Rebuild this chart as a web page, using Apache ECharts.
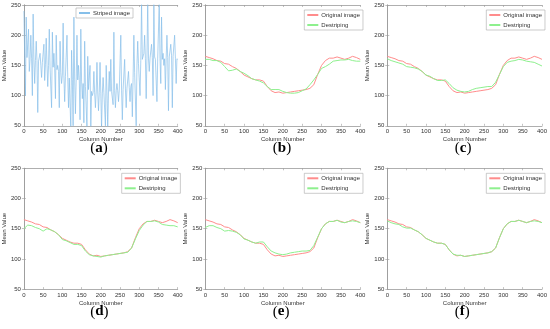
<!DOCTYPE html>
<html><head><meta charset="utf-8">
<script src="https://cdn.jsdelivr.net/npm/echarts@6/dist/echarts.min.js"></script>
<style>html,body{margin:0;padding:0;background:#fff}#c{width:550px;height:329px}</style>
</head><body><div id="c"></div>
<script>
// ---- data ----
const panelLabels = ['a','b','c','d','e','f'];
const xTicks = [0,50,100,150,200,250,300,350,400];
const yTicks = [50,100,150,200,250];
const cols10 = [0,10,20,30,40,50,60,70,80,90,100,110,120,130,140,150,160,170,180,190,200,210,220,230,240,250,260,270,280,290,300,310,320,330,340,350,360,370,380,390,400];
const original = [165,163,161,158,157,153,152,148,145,140,134,131,128,126,126,124,115,108,105,106,104,105,106,107,108,109,110,112,118,135,150,158,162,162,164,162,160,162,165,163,160];
const destripeB = [160,160,158,158,155,148,141,142,144,140,137,133,128,126,124,121,115,110,110,110,107,105,104,104,105,108,111,118,126,135,145,148,152,157,158,159,159,160,158,157,157];
const destripeC = [161,158,156,154,152,148,147,146,144,140,134,132,128,125,125,126,120,113,109,107,106,107,110,112,113,114,115,115,122,135,148,155,157,158,160,159,157,156,155,152,149];
const destripeD = [150,156,155,152,150,146,150,148,145,140,132,130,127,124,124,122,113,107,105,104,103,105,106,107,108,109,110,111,118,133,147,156,162,162,163,161,157,156,155,155,153];
const destripeE = [152,155,155,152,150,146,147,146,144,140,133,131,128,126,128,128,120,113,110,108,107,108,110,111,112,113,113,114,122,136,150,158,162,162,164,161,160,162,163,162,160];
const destripeF = [163,160,158,157,153,151,151,148,145,140,134,131,128,126,126,124,115,108,106,106,104,105,106,107,108,109,110,112,118,135,150,158,162,162,164,162,160,162,163,162,160];
const cols2 = Array.from({length:201},(_,i)=>i*2);
const striped = [
240,165,100,230,163,162,210,140,160,200,
161,100,235,160,120,158,190,158,72,157,
157,170,150,130,155,153,185,125,152,195,
152,115,150,210,148,148,80,205,147,170,
145,95,200,143,150,140,80,190,138,120,
134,220,133,90,132,131,200,130,80,129,
128,45,175,127,50,230,126,70,126,200,
126,150,127,60,210,124,95,120,55,190,
115,112,45,165,110,108,150,45,107,100,
105,140,105,80,106,155,106,75,105,155,
104,45,104,130,105,105,50,150,106,45,
106,140,107,160,107,107,85,205,108,80,
108,120,108,90,109,109,200,109,60,110,
110,160,111,80,112,112,140,113,90,115,
120,65,130,200,138,140,50,150,190,153,
155,100,158,255,160,160,170,200,161,95,
162,255,162,140,162,162,185,163,100,255,
164,160,163,90,162,162,255,161,120,230,
160,170,150,161,110,162,200,163,75,164,
165,185,166,80,165,163,200,162,120,161,
160];
const destriped = [destripeB, destripeC, destripeD, destripeE, destripeF];

// ---- layout ----
const lefts = [22.7, 205.3, 387.3], tops = [5, 168.3];
const W = 155, H = 120.8;
const font = 'Liberation Sans';
const grid = [], xAxis = [], yAxis = [], series = [], legend = [], graphic = [];
const axisCol = '#9a9a9a', txtCol = '#333';
for (let p = 0; p < 6; p++) {
  const L = lefts[p % 3], T = tops[Math.floor(p / 3)];
  grid.push({left: L, top: T, width: W, height: H, containLabel: false});
  const common = {min: 0, max: 400, interval: 50, type: 'value', gridIndex: p,
    axisLine: {show: true, lineStyle: {color: axisCol, width: 0.8}},
    axisTick: {show: true, inside: true, length: 2, lineStyle: {color: axisCol, width: 0.6}},
    splitLine: {show: false}};
  xAxis.push(Object.assign({}, common, {position: 'bottom',
    name: 'Column Number', nameLocation: 'middle', nameGap: 11,
    nameTextStyle: {fontSize: 6, color: txtCol, fontFamily: font},
    axisLabel: {fontSize: 6, color: txtCol, margin: 3, fontFamily: font}}));
  xAxis.push(Object.assign({}, common, {position: 'top', axisLabel: {show: false}}));
  const ycommon = Object.assign({}, common, {min: 50, max: 250, interval: 50});
  yAxis.push(Object.assign({}, ycommon, {position: 'left',
    name: 'Mean Value', nameLocation: 'middle', nameGap: 14,
    nameTextStyle: {fontSize: 6, color: txtCol, fontFamily: font},
    axisLabel: {fontSize: 6, color: txtCol, margin: 3, fontFamily: font}}));
  yAxis.push(Object.assign({}, ycommon, {position: 'right', axisLabel: {show: false}}));
  graphic.push({type: 'text', left: L + W / 2 - 10, top: T + H + 15,
    style: {text: '({b|' + panelLabels[p] + '})', fontSize: 15, fontFamily: 'Liberation Serif',
      fill: '#000', rich: {b: {fontWeight: 'bold', fontSize: 15, fontFamily: 'Liberation Serif'}}}});
}
const xi = p => p * 2, yi = p => p * 2;
series.push({name: 'Striped image', type: 'line', xAxisIndex: 0, yAxisIndex: 0, symbol: 'none',
  lineStyle: {color: '#86bfe9', width: 0.7}, itemStyle: {color: '#86bfe9'},
  data: cols2.map((c, i) => [c, striped[i]]), animation: false});
for (let p = 1; p < 6; p++) {
  series.push({name: 'Original image', type: 'line', xAxisIndex: xi(p), yAxisIndex: yi(p), symbol: 'none',
    lineStyle: {color: '#ff8c8c', width: 1}, itemStyle: {color: '#ff8c8c'},
    data: cols10.map((c, i) => [c, original[i]]), animation: false});
  series.push({name: 'Destriping', type: 'line', xAxisIndex: xi(p), yAxisIndex: yi(p), symbol: 'none',
    lineStyle: {color: '#8ef08e', width: 1}, itemStyle: {color: '#8ef08e'},
    data: cols10.map((c, i) => [c, destriped[p - 1][i]]), animation: false});
}
const legBase = {orient: 'vertical', itemWidth: 11, itemHeight: 1.2, itemGap: 4, padding: [2, 3, 2, 2],
  borderColor: '#aaa', borderWidth: 0.6, backgroundColor: '#fff', itemStyle: {borderWidth: 0},
  textStyle: {fontSize: 6, color: txtCol, fontFamily: font, padding: [0, 0, 0, -2]}, selectedMode: false};
legend.push(Object.assign({}, legBase, {data: ['Striped image'], left: 76, top: 8}));
for (let p = 1; p < 6; p++) {
  const L = lefts[p % 3], T = tops[Math.floor(p / 3)];
  legend.push(Object.assign({}, legBase, {data: ['Original image', 'Destriping'], left: L + W - 56, top: T + 5}));
}
const chart = echarts.init(document.getElementById('c'), null, {renderer: 'canvas'});
chart.setOption({animation: false, backgroundColor: '#fff', grid, xAxis, yAxis, series, legend, graphic});
</script></body></html>
